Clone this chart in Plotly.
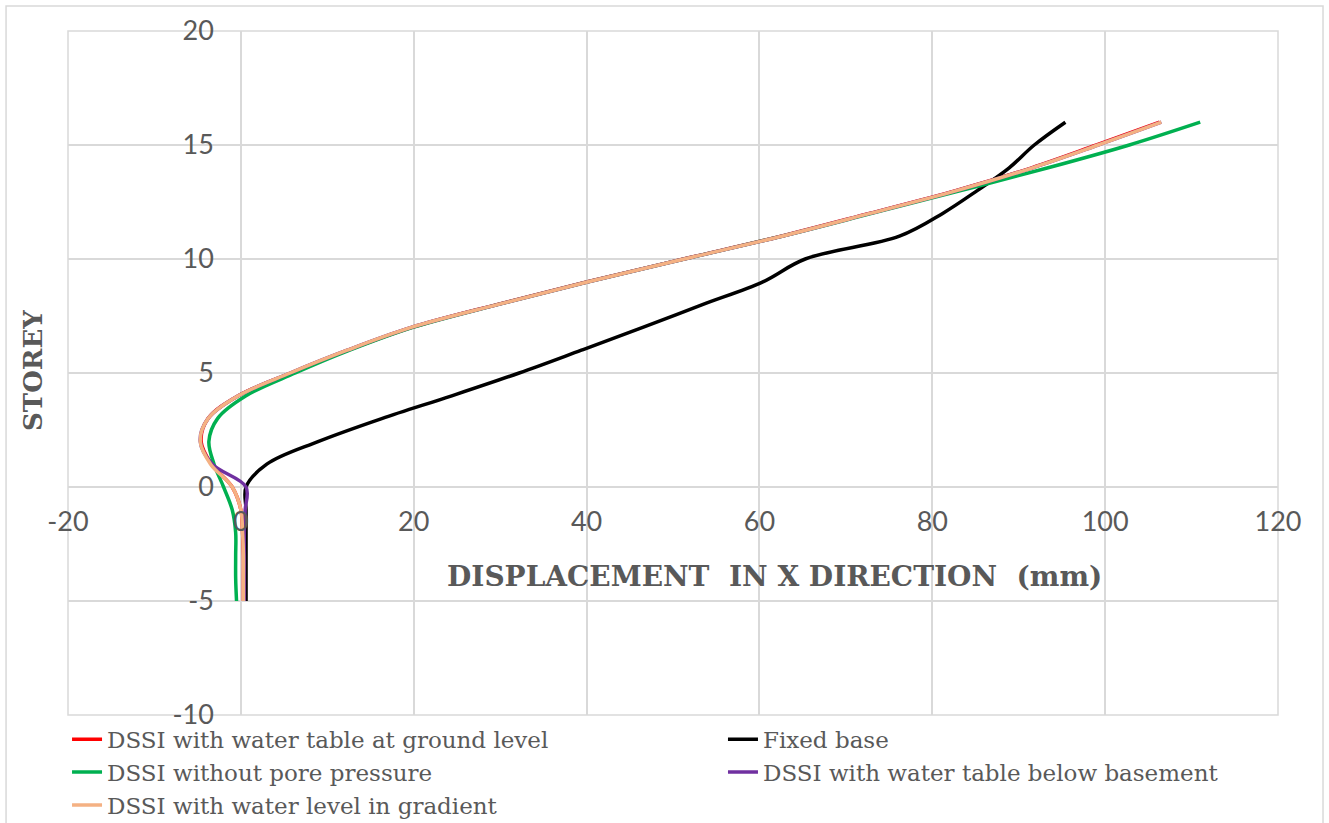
import plotly.graph_objects as go

# Storey levels (basement -5 to roof 16)
storey = list(range(-5, 17))

# Displacement in X direction (mm)
disp_ground = [0.3, 0.3, 0.3, 0.2, 0.0, -1.0, -3.4, -4.6, -3.8, -0.3, 5.8, 12.4,
               19.8, 29.6, 40.1, 51.2, 62.5, 72.7, 82.7, 91.5, 99.0, 106.3]
disp_fixed = [0.6, 0.6, 0.6, 0.6, 0.6, 0.6, 3.0, 9.0, 16.3, 24.4, 32.2, 39.4,
              46.5, 53.4, 60.4, 65.3, 76.2, 81.2, 85.2, 88.9, 91.8, 95.4]
disp_nopore = [-0.5, -0.6, -0.6, -0.6, -1.0, -2.0, -3.1, -3.7, -2.7, 0.6, 6.3, 12.6,
               19.9, 29.7, 40.2, 51.3, 62.6, 73.0, 83.3, 93.4, 102.8, 111.0]
disp_below = [0.4, 0.4, 0.4, 0.4, 0.5, 0.6, -3.3, -4.7, -3.8, -0.3, 5.7, 12.3,
              19.7, 29.7, 40.2, 51.3, 62.6, 72.8, 82.8, 91.6, 99.2, 106.5]
disp_gradient = [0.3, 0.3, 0.3, 0.2, 0.0, -1.0, -3.5, -4.7, -3.8, -0.3, 5.7, 12.3,
                 19.7, 29.7, 40.2, 51.3, 62.6, 72.8, 82.8, 91.6, 99.2, 106.5]

names = ["DSSI with water table at ground level", "Fixed base",
         "DSSI without pore pressure", "DSSI with water table below basement",
         "DSSI with water level in gradient"]
values = [disp_ground, disp_fixed, disp_nopore, disp_below, disp_gradient]
colors = ["#ff0000", "#000000", "#00b050", "#7030a0", "#f4b183"]
legend_of = ["legend", "legend2", "legend", "legend2", "legend"]

x_ticks = [-20, 0, 20, 40, 60, 80, 100, 120]
x_ticktext = ["-20", "0", "20", "40", "60", "80", "100", "120"]
y_ticks = [-10, -5, 0, 5, 10, 15, 20]
y_ticktext = ["-10", "-5", "0", "5", "10", "15", "20"]

fig = go.Figure()
for n, v, c, lg in zip(names, values, colors, legend_of):
    fig.add_trace(go.Scatter(x=v, y=storey, mode="lines", name=n, legend=lg,
                             line=dict(color=c, width=3.5, shape="spline")))

grid = "#d9d9d9"
tickfont = dict(family="Lato", size=27, color="#595959")
legfont = dict(family="DejaVu Serif", size=23, color="#595959")

fig.update_layout(
    width=1329, height=823,
    margin=dict(l=68, r=51, t=31, b=108, autoexpand=False),
    paper_bgcolor="white", plot_bgcolor="white",
    showlegend=True,
    xaxis=dict(range=[-20, 120], tickvals=x_ticks, ticktext=x_ticktext,
               showgrid=True, gridcolor=grid, gridwidth=1.5, zeroline=False,
               showline=False, anchor="free", position=1/3, tickfont=tickfont,
               ticks="", ticklabelstandoff=16),
    yaxis=dict(range=[-10, 20], tickvals=y_ticks, ticktext=y_ticktext,
               showgrid=True, gridcolor=grid, gridwidth=1.5, zeroline=False,
               showline=False, anchor="free", position=20/140, tickfont=tickfont,
               ticks="", ticklabelstandoff=27),
    legend=dict(orientation="v", x=-0.0008, xanchor="left", y=-0.004, yanchor="top",
                bgcolor="rgba(0,0,0,0)", font=legfont, itemclick=False,
                tracegroupgap=0),
    legend2=dict(orientation="v", x=0.5413, xanchor="left", y=-0.004, yanchor="top",
                 bgcolor="rgba(0,0,0,0)", font=legfont, itemclick=False,
                 tracegroupgap=0),
    shapes=[
        dict(type="rect", xref="paper", yref="paper", x0=0, x1=1, y0=0, y1=1,
             line=dict(color=grid, width=1.5), layer="below"),
        dict(type="rect", xref="paper", yref="paper", x0=-0.0512, x1=1.0372,
             y0=-0.25, y1=1.0365, line=dict(color=grid, width=1.5), layer="below"),
    ],
    annotations=[
        dict(text="<b>DISPLACEMENT  IN X DIRECTION  (mm)</b>", xref="paper", yref="paper",
             x=0.5835, y=0.2018, xanchor="center", yanchor="middle", showarrow=False,
             font=dict(family="DejaVu Serif", size=28, color="#595959")),
        dict(text="<b>STOREY</b>", xref="paper", yref="paper", x=-0.0289, y=0.503,
             xanchor="center", yanchor="middle", textangle=-90, showarrow=False,
             font=dict(family="DejaVu Serif", size=26, color="#595959")),
    ],
)

fig.write_html("out.html")
